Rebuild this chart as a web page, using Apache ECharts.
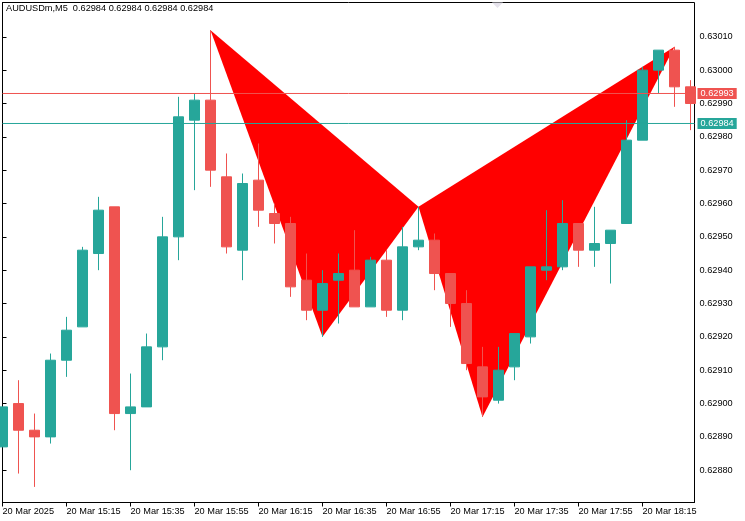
<!DOCTYPE html>
<html><head><meta charset="utf-8">
<script src="https://cdn.jsdelivr.net/npm/echarts@6/dist/echarts.min.js"></script>
<style>html,body{margin:0;padding:0;background:#fff}#c{width:745px;height:521px}</style>
</head><body><div id="c"></div><script>
// ---- data ----
const times = ["14:55","15:00","15:05","15:10","15:15","15:20","15:25","15:30","15:35","15:40","15:45","15:50","15:55","16:00","16:05","16:10","16:15","16:20","16:25","16:30","16:35","16:40","16:45","16:50","16:55","17:00","17:05","17:10","17:15","17:20","17:25","17:30","17:35","17:40","17:45","17:50","17:55","18:00","18:05","18:10","18:15","18:20","18:25","18:30"];
const openP  = [0.62887,0.62900,0.62892,0.62890,0.62913,0.62923,0.62945,0.62959,0.62897,0.62899,0.62917,0.62950,0.62985,0.62991,0.62968,0.62946,0.62967,0.62957,0.62954,0.62937,0.62928,0.62937,0.62940,0.62929,0.62943,0.62928,0.62947,0.62949,0.62939,0.62930,0.62911,0.62901,0.62911,0.62920,0.62940,0.62941,0.62954,0.62946,0.62948,0.62954,0.62979,0.63000,0.63006,0.62995];
const closeP = [0.62899,0.62892,0.62890,0.62913,0.62922,0.62946,0.62958,0.62897,0.62899,0.62917,0.62950,0.62986,0.62991,0.62970,0.62947,0.62966,0.62958,0.62954,0.62935,0.62928,0.62936,0.62939,0.62929,0.62943,0.62928,0.62947,0.62949,0.62939,0.62930,0.62912,0.62902,0.62910,0.62921,0.62941,0.62941,0.62954,0.62946,0.62948,0.62952,0.62979,0.63000,0.63006,0.62995,0.62990];
const lowP   = [0.62887,0.62879,0.62875,0.62888,0.62908,0.62923,0.62940,0.62892,0.62880,0.62899,0.62913,0.62943,0.62964,0.62965,0.62945,0.62937,0.62953,0.62948,0.62932,0.62925,0.62920,0.62924,0.62929,0.62929,0.62926,0.62925,0.62946,0.62934,0.62923,0.62910,0.62896,0.62900,0.62907,0.62918,0.62937,0.62940,0.62941,0.62941,0.62936,0.62954,0.62979,0.62993,0.62989,0.62982];
const highP  = [0.62899,0.62907,0.62897,0.62915,0.62926,0.62947,0.62962,0.62959,0.62909,0.62921,0.62956,0.62992,0.62993,0.63012,0.62975,0.62969,0.62978,0.62960,0.62956,0.62945,0.62940,0.62945,0.62952,0.62944,0.62946,0.62953,0.62959,0.62951,0.62939,0.62934,0.62917,0.62917,0.62921,0.62941,0.62958,0.62961,0.62954,0.62959,0.62952,0.62985,0.63001,0.63006,0.63007,0.62997];
const xTickIdx = [0,4,8,12,16,20,24,28,32,36,40];
const xTickLabels = ["20 Mar 2025","20 Mar 15:15","20 Mar 15:35","20 Mar 15:55","20 Mar 16:15","20 Mar 16:35","20 Mar 16:55","20 Mar 17:15","20 Mar 17:35","20 Mar 17:55","20 Mar 18:15"];
const yTicks = [0.6288,0.6289,0.6290,0.6291,0.6292,0.6293,0.6294,0.6295,0.6296,0.6297,0.6298,0.6299,0.6300,0.6301];
// harmonic pattern points X, A, B, C, D
const patternIdx = [13,20,26,30,42];
const patternPrice = [0.63012,0.62920,0.62959,0.62896,0.63007];
const triangles = [[0,1,2],[2,3,4]];
const askPrice = 0.62993;
const bidPrice = 0.62984;
const titleSymbol = "AUDUSDm,M5";
const titleValues = [0.62984,0.62984,0.62984,0.62984];

const UP = '#26A69A', DOWN = '#EF5350', FONT = '"Liberation Sans", Arial, sans-serif', FS = 9.2;
const X_MIN = 0, X_MAX = 43.25;
const candleData = times.map((t,i)=>[i, openP[i], closeP[i], lowP[i], highP[i]]);

function priceLine(price, color) {
  return {
    type: 'line', z: 5, clip: false, silent: true, symbol: 'none', showSymbol: false,
    data: [[X_MIN, price], [X_MAX, price]],
    lineStyle: {color: color, width: 1, type: 'solid'},
    endLabel: {show: true, distance: 3, formatter: () => price.toFixed(5),
      color: '#fff', backgroundColor: color, padding: [1,3,0,3], fontSize: FS, fontFamily: FONT, lineHeight: 10}
  };
}

const chart = echarts.init(document.getElementById('c'), null, {renderer:'canvas'});
chart.setOption({
  animation: false,
  backgroundColor: '#fff',
  title: {
    text: titleSymbol + '  ' + titleValues.map(v=>v.toFixed(5)).join(' '),
    left: 6, top: 4, padding: 0,
    textStyle: {fontSize: FS, fontWeight: 'normal', color: '#000', fontFamily: FONT}
  },
  grid: {left: 2.5, top: 2.5, width: 692, height: 500, show: true, borderColor: '#000', borderWidth: 1,
         backgroundColor: 'transparent', containLabel: false, outerBoundsMode: 'none'},
  xAxis: {
    type: 'value', min: X_MIN, max: X_MAX,
    axisLine: {show: true, lineStyle: {color: '#000', width: 1}},
    axisTick: {show: true, length: 4, customValues: xTickIdx, lineStyle: {color: '#000'}},
    axisLabel: {customValues: xTickIdx, align: 'left', margin: 4, fontSize: FS, color: '#000', fontFamily: FONT,
      formatter: v => xTickLabels[xTickIdx.indexOf(Math.round(v))] || ''},
    splitLine: {show: false}
  },
  yAxis: {
    type: 'value', position: 'right', min: 0.6287032, max: 0.6302029, scale: true,
    axisLine: {show: true, lineStyle: {color: '#000', width: 1}},
    axisTick: {show: true, length: 4, customValues: yTicks, lineStyle: {color: '#000'}},
    axisLabel: {customValues: yTicks, margin: 5, fontSize: FS, color: '#000', fontFamily: FONT,
      formatter: v => v.toFixed(5)},
    splitLine: {show: false}
  },
  graphic: [{type: 'polygon', shape: {points: [[492,2.5],[503,2.5],[497.5,8]]}, style: {fill: '#e6e3ec'}, z: 1}],
  series: [
    {
      type: 'custom', z: 1, clip: true,
      data: triangles.map(t => [patternIdx[t[0]], patternPrice[t[0]]]),
      encode: {x: 0, y: 1},
      renderItem: (params, api) => {
        const tri = triangles[params.dataIndex];
        const pts = tri.map(j => api.coord([patternIdx[j], patternPrice[j]]));
        return {type: 'polygon', shape: {points: pts}, style: {fill: '#FF0000', stroke: null}};
      }
    },
    {
      type: 'candlestick', z: 2, clip: true,
      data: candleData,
      encode: {x: 0, y: [1,2,3,4]},
      barWidth: 10,
      itemStyle: {color: UP, color0: DOWN, borderColor: UP, borderColor0: DOWN, borderWidth: 1}
    },
    priceLine(askPrice, DOWN),
    priceLine(bidPrice, UP)
  ]
});
</script></body></html>
